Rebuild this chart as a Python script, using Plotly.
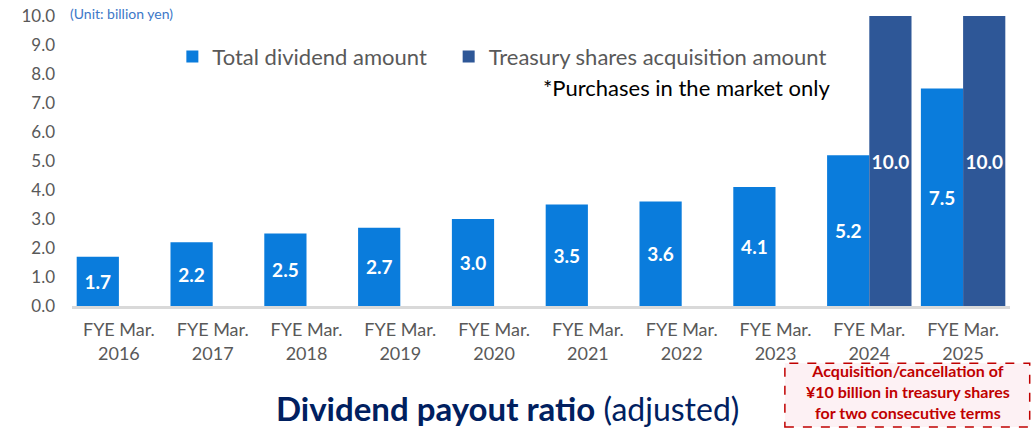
import plotly.graph_objects as go

years = ['2016', '2017', '2018', '2019', '2020', '2021', '2022', '2023', '2024', '2025']
dividend = [1.7, 2.2, 2.5, 2.7, 3.0, 3.5, 3.6, 4.1, 5.2, 7.5]
treasury = [None, None, None, None, None, None, None, None, 10.0, 10.0]

categories = [f'FYE Mar.<br>{y}' for y in years]

FONT = 'Lato, Open Sans, sans-serif'
GREY = '#595959'

fig = go.Figure()

fig.add_trace(go.Bar(
    x=categories, y=dividend, name='Total dividend amount\u00a0\u00a0\u00a0',
    marker=dict(color='#0A7CDC', line=dict(width=0)),
    texttemplate='<b>%{y:.1f}</b>', textposition='inside',
    insidetextanchor='middle', textangle=0, constraintext='none',
    textfont=dict(color='white', size=19, family=FONT),
))
fig.add_trace(go.Bar(
    x=categories, y=treasury, name='Treasury shares acquisition amount',
    marker=dict(color='#2E5797', line=dict(width=0)),
    texttemplate='<b>%{y:.1f}</b>', textposition='inside',
    insidetextanchor='middle', textangle=0, constraintext='none',
    textfont=dict(color='white', size=19, family=FONT),
))

fig.update_layout(
    width=1031, height=429,
    margin=dict(l=72, r=21, t=16, b=123, autoexpand=False),
    barmode='group', bargap=0.1, bargroupgap=0,
    plot_bgcolor='white', paper_bgcolor='white',
    font=dict(family=FONT, color=GREY, size=16),
    legend=dict(
        orientation='h', x=0.107, y=0.86, xanchor='left', yanchor='middle',
        font=dict(size=22, color=GREY), bgcolor='rgba(0,0,0,0)',
        itemclick=False,
    ),
    showlegend=True,
)

fig.update_yaxes(
    range=[0, 10], dtick=1, tickformat='.1f', showgrid=False, zeroline=False,
    showline=False, ticks='', ticklabelstandoff=16, automargin=False,
    tickfont=dict(size=17, color=GREY),
)
fig.update_xaxes(
    showgrid=False, showline=True, linecolor='#D9D9D9', linewidth=2.5,
    ticks='', ticklabelstandoff=6, automargin=False,
    tickfont=dict(size=18, color=GREY),
)

# unit note
fig.add_annotation(
    text='(Unit: billion yen)', xref='paper', yref='paper', x=-0.004, y=1.007,
    xanchor='left', yanchor='middle', showarrow=False,
    font=dict(size=14, color='#3C78C8', family=FONT),
)
# market note
fig.add_annotation(
    text='*Purchases in the market only', xref='paper', yref='paper', x=0.81, y=0.752,
    xanchor='right', yanchor='middle', showarrow=False,
    font=dict(size=22, color='black', family=FONT),
)

# dashed red box
fig.add_shape(
    type='rect', xref='paper', yref='paper', x0=0.760, x1=1.021, y0=-0.417, y1=-0.197,
    line=dict(color='#C00000', width=1.5, dash='dash'), fillcolor='#FDF1F4', layer='below',
)
fig.add_annotation(
    text='<b>Acquisition/cancellation of<br>¥10 billion in treasury shares<br>for two consecutive terms</b>',
    xref='paper', yref='paper', x=0.891, y=-0.296, xanchor='center', yanchor='middle',
    showarrow=False, align='center',
    font=dict(size=16, color='#C00000', family=FONT),
)

# bottom title
fig.add_annotation(
    text='<b>Dividend payout ratio</b>'
         '<span style="font-size:32px"> (adjusted)</span>',
    xref='paper', yref='paper', x=0.464, y=-0.35, xanchor='center', yanchor='middle',
    showarrow=False, font=dict(size=33, color='#002060', family=FONT),
)

fig.write_html('out.html', config={'displayModeBar': False},
               post_script="document.body.style.margin='0px';")
